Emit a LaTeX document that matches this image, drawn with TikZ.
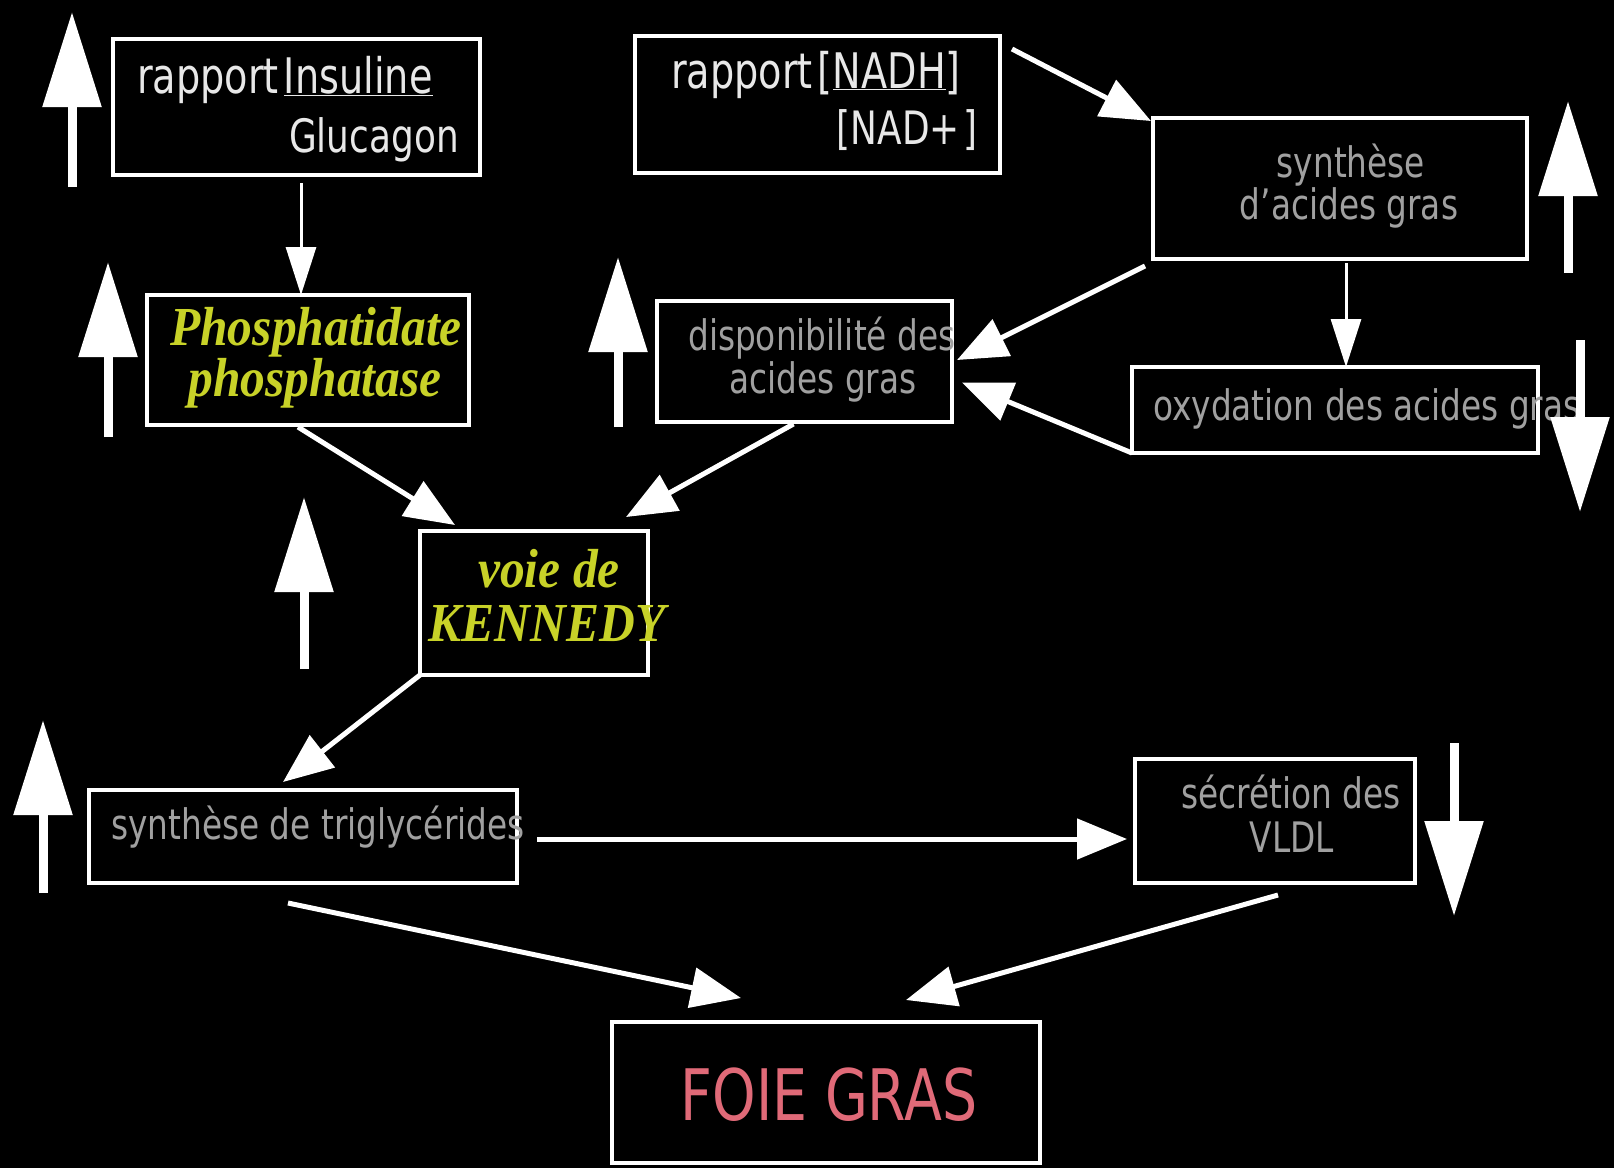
\documentclass[tikz,border=0pt]{standalone}
\usepackage{fontspec}
\setmainfont{DejaVu Sans}[FakeStretch=0.78]
\newfontfamily\serifbi{Liberation Serif}[FakeStretch=0.9]
\usetikzlibrary{arrows.meta}
\definecolor{txtwhite}{HTML}{E8E8E8}
\definecolor{txtgray}{HTML}{A0A0A0}
\definecolor{enzyme}{HTML}{C8D228}
\definecolor{foie}{HTML}{E06A78}
\newcommand\bigsans{\fontsize{46}{52}\selectfont}
\newcommand\bigsansb{\fontsize{49}{54}\selectfont}
\newcommand\smallsans{\fontsize{42}{48}\selectfont}
\newcommand\enzfont{\serifbi\bfseries\itshape\fontsize{55}{60}\selectfont}
\begin{document}
\begin{tikzpicture}[x=1pt,y=-1pt,
  box/.style={draw=white,line width=4pt,fill=black,inner sep=0pt,outer sep=0pt},
  conn/.style={draw=white,line width=5pt,-{Triangle[width=40pt,length=50pt]}},
  thinconn/.style={draw=white,line width=3pt,-{Triangle[width=30pt,length=48pt]}},
  bigarrow/.style={draw=white,line width=9pt,-{Triangle[width=57pt,length=95pt]}},
  wtxt/.style={inner sep=0pt,text=txtwhite,font=\bigsans},
  gtxt/.style={inner sep=0pt,text=txtgray,font=\smallsans},
  etxt/.style={inner sep=0pt,text=enzyme,font=\enzfont},
  ftxt/.style={inner sep=0pt,text=foie,font=\fontsize{71}{80}\selectfont}
]
\fill[black] (0,0) rectangle (1614,1168);
\useasboundingbox (0,0) rectangle (1614,1168);

% boxes
\node[box,minimum width=367pt,minimum height=136pt] (A) at (296.5,107) {};
\node[box,minimum width=322pt,minimum height=130pt] (B) at (308,360) {};
\node[box,minimum width=365pt,minimum height=137pt] (C) at (817.5,104.5) {};
\node[box,minimum width=374pt,minimum height=141pt] (D) at (1340,188.5) {};
\node[box,minimum width=295pt,minimum height=121pt] (E) at (804.5,361.5) {};
\node[box,minimum width=406pt,minimum height=86pt] (F) at (1335,410) {};
\node[box,minimum width=228pt,minimum height=144pt] (K) at (534,603) {};
\node[box,minimum width=428pt,minimum height=93pt] (T) at (303,836.5) {};
\node[box,minimum width=280pt,minimum height=124pt] (V) at (1275,821) {};
\node[box,minimum width=428pt,minimum height=141pt] (G) at (826,1092.5) {};

% texts
\node[wtxt,font=\bigsansb,anchor=base west] (A1) at (137,93) {rapport\hspace{5pt}\underline{Insuline}};
\node[wtxt,anchor=base east] (A2) at (459,152) {Glucagon};
\node[wtxt,font=\bigsansb,anchor=base west] (C1) at (671,88) {rapport\hspace{5pt}[\underline{NADH}]};
\node[wtxt,anchor=base east] (C2) at (978,144) {[NAD+\hspace{4pt}]};
\node[gtxt,anchor=base] (D1) at (1351,177) {synthèse};
\node[gtxt,anchor=base] (D2) at (1349,219) {d'acides gras};
\node[gtxt,anchor=base west] (E1) at (688,350) {disponibilité des};
\node[gtxt,anchor=base] (E2) at (823,393) {acides gras};
\node[gtxt,anchor=base west] (F1) at (1153,420) {oxydation des acides gras};
\node[gtxt,anchor=base west] (T1) at (111,839) {synthèse de triglycérides};
\node[gtxt,anchor=base] (V1) at (1291,808) {sécrétion des};
\node[gtxt,anchor=base] (V2) at (1292,852) {VLDL};
\node[etxt,anchor=base] (B1) at (316,345) {Phosphatidate};
\node[etxt,anchor=base] (B2) at (315,396) {phosphatase};
\node[etxt,anchor=base] (K1) at (549,587) {voie de};
\node[etxt,anchor=base] (K2) at (547,641) {KENNEDY};
\node[ftxt,anchor=base] (G1) at (829,1120) {FOIE GRAS};

% connectors
\draw[thinconn] ([xshift=4.5pt,yshift=-8pt]A.south) -- ([xshift=-7pt]B.north);
\draw[conn] ([xshift=12pt,yshift=-13pt]C.north east) -- ([xshift=-2pt,yshift=-3pt]D.north west);
\draw[conn] ([xshift=-8pt,yshift=-7pt]D.south west) -- ([xshift=5pt,yshift=1.5pt]E.east);
\draw[conn] (F.south west) -- ([xshift=10pt,yshift=-21pt]E.east);
\draw[thinconn] ([xshift=6pt,yshift=-4pt]D.south) -- ([xshift=11pt]F.north);
\draw[conn] ([xshift=-10pt,yshift=-2pt]B.south) -- ([xshift=35pt,yshift=6pt]K.north west);
\draw[conn] ([xshift=-11pt,yshift=-2pt]E.south) -- ([xshift=-22pt,yshift=14pt]K.north east);
\draw[conn] (K.south west) -- ([xshift=-20pt,yshift=8pt]T.north);
\draw[conn] ([xshift=20pt,yshift=-2.5pt]T.east) -- ([xshift=-8pt,yshift=-18pt]V.west);
\draw[conn] ([xshift=-15pt,yshift=-20pt]T.south) -- ([xshift=-85pt,yshift=24pt]G.north);
\draw[conn] ([xshift=3pt,yshift=-12pt]V.south) -- ([xshift=80pt,yshift=22pt]G.north);

% indicator arrows
\coordinate (u1a) at (72,187);   \coordinate (u1b) at (72,12);
\coordinate (u2a) at (108,437);  \coordinate (u2b) at (108,262);
\coordinate (u3a) at (618,427);  \coordinate (u3b) at (618,257);
\coordinate (u4a) at (1568,273); \coordinate (u4b) at (1568,101);
\coordinate (d5a) at (1580,340); \coordinate (d5b) at (1580,512);
\coordinate (u6a) at (304,669);  \coordinate (u6b) at (304,497);
\coordinate (u7a) at (43,893);   \coordinate (u7b) at (43,720);
\coordinate (d8a) at (1454,743); \coordinate (d8b) at (1454,916);
\draw[bigarrow] (u1a) -- (u1b);
\draw[bigarrow] (u2a) -- (u2b);
\draw[bigarrow] (u3a) -- (u3b);
\draw[bigarrow] (u4a) -- (u4b);
\draw[bigarrow] (d5a) -- (d5b);
\draw[bigarrow] (u6a) -- (u6b);
\draw[bigarrow] (u7a) -- (u7b);
\draw[bigarrow] (d8a) -- (d8b);
\end{tikzpicture}
\end{document}
